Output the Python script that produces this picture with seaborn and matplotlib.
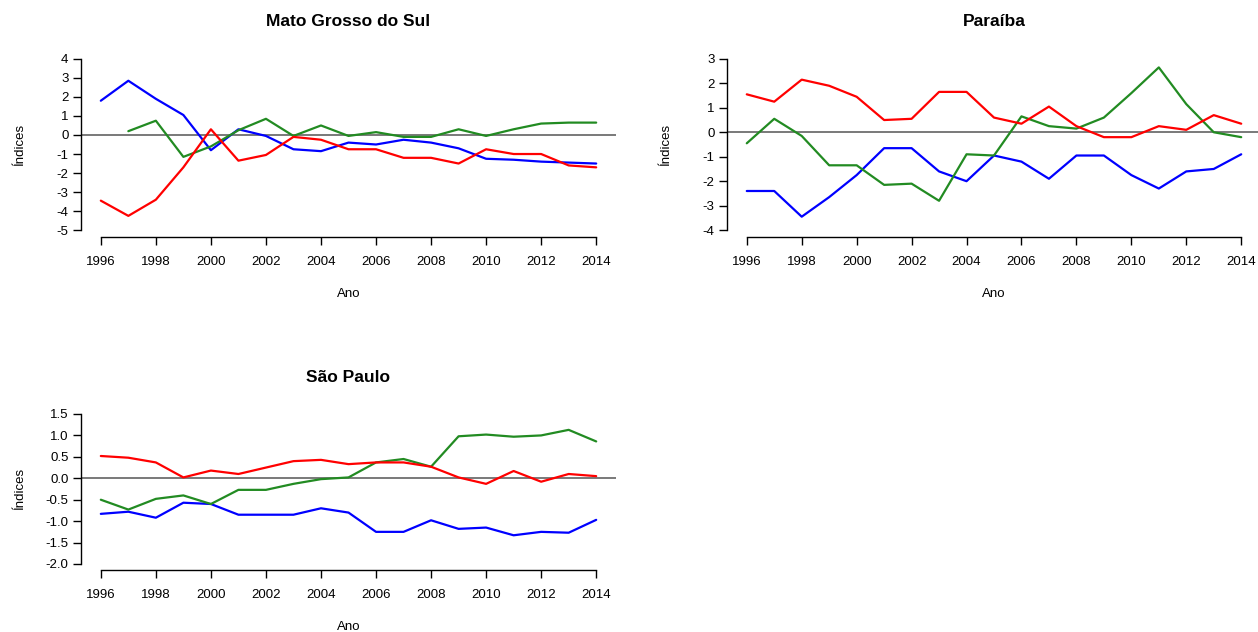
import numpy as np
import pandas as pd
import matplotlib
matplotlib.use('Agg')
import matplotlib.pyplot as plt
import seaborn as sns

sns.set_style('white')
plt.rcParams['font.family'] = ['Liberation Sans', 'DejaVu Sans']
plt.rcParams['text.color'] = 'black'
plt.rcParams['axes.labelcolor'] = 'black'

anos = list(range(1996, 2015))

# Mato Grosso do Sul
ms_azul = [1.8, 2.85, 1.9, 1.05, -0.8, 0.3, -0.05, -0.75, -0.85, -0.4,
           -0.5, -0.25, -0.4, -0.7, -1.25, -1.3, -1.4, -1.45, -1.5]
ms_verde = [np.nan, 0.2, 0.75, -1.15, -0.6, 0.25, 0.85, -0.05, 0.5, -0.05,
            0.15, -0.1, -0.1, 0.3, -0.05, 0.3, 0.6, 0.65, 0.65]
ms_vermelho = [-3.45, -4.25, -3.4, -1.7, 0.3, -1.35, -1.05, -0.1, -0.25, -0.75,
               -0.75, -1.2, -1.2, -1.5, -0.75, -1.0, -1.0, -1.6, -1.7]

# Paraiba
pb_azul = [-2.4, -2.4, -3.45, -2.65, -1.75, -0.65, -0.65, -1.6, -2.0, -0.95,
           -1.2, -1.9, -0.95, -0.95, -1.75, -2.3, -1.6, -1.5, -0.9]
pb_verde = [-0.45, 0.55, -0.15, -1.35, -1.35, -2.15, -2.1, -2.8, -0.9, -0.95,
            0.65, 0.25, 0.15, 0.6, 1.6, 2.65, 1.15, 0.0, -0.2]
pb_vermelho = [1.55, 1.25, 2.15, 1.9, 1.45, 0.5, 0.55, 1.65, 1.65, 0.6,
               0.35, 1.05, 0.25, -0.2, -0.2, 0.25, 0.1, 0.7, 0.35]

# Sao Paulo
sp_azul = [-0.83, -0.78, -0.92, -0.57, -0.6, -0.85, -0.85, -0.85, -0.7, -0.8,
           -1.25, -1.25, -0.98, -1.18, -1.15, -1.33, -1.25, -1.27, -0.97]
sp_verde = [-0.5, -0.73, -0.48, -0.4, -0.6, -0.27, -0.27, -0.13, -0.02, 0.02,
            0.37, 0.45, 0.27, 0.98, 1.02, 0.97, 1.0, 1.13, 0.86]
sp_vermelho = [0.52, 0.48, 0.37, 0.02, 0.18, 0.1, 0.25, 0.4, 0.43, 0.33,
               0.37, 0.37, 0.27, 0.02, -0.13, 0.17, -0.08, 0.1, 0.05]

cores = {'azul': '#0000FF', 'verde': '#228B22', 'vermelho': '#FF0000'}

W, H = 1258, 632
fig = plt.figure(figsize=(W / 100, H / 100), dpi=100)


def eixo(l, r, t, b):
    return fig.add_axes([l / W, 1 - b / H, (r - l) / W, (b - t) / H])


paineis = [
    ('Mato Grosso do Sul', ms_azul, ms_verde, ms_vermelho, (81, 616, 52, 237),
     np.arange(-5, 5, 1), '%d'),
    ('Paraíba', pb_azul, pb_verde, pb_vermelho, (727, 1261, 52, 237),
     np.arange(-4, 4, 1), '%d'),
    ('São Paulo', sp_azul, sp_verde, sp_vermelho, (81, 616, 408, 570),
     np.arange(-2, 1.51, 0.5), '%.1f'),
]

for titulo, azul, verde, vermelho, caixa, yt, fmt in paineis:
    ax = eixo(*caixa)
    df = pd.DataFrame({'Ano': anos * 3,
                       'valor': azul + verde + vermelho,
                       'serie': ['azul'] * 19 + ['verde'] * 19 + ['vermelho'] * 19})
    df = df.dropna()
    sns.lineplot(data=df, x='Ano', y='valor', hue='serie', palette=cores,
                 linewidth=1.6, legend=False, ax=ax)
    ax.axhline(0, color='#555555', linewidth=1.1, zorder=0)

    pad_y = (yt[-1] - yt[0]) * 0.04
    ax.set_xlim(1996 - 18 * 0.04, 2014 + 18 * 0.04)
    ax.set_ylim(yt[0] - pad_y, yt[-1] + pad_y)
    ax.set_xticks(range(1996, 2015, 2))
    ax.set_yticks(yt)
    ax.set_yticklabels([fmt % v for v in yt])

    for s in ['top', 'right']:
        ax.spines[s].set_visible(False)
    ax.spines['left'].set_bounds(yt[0], yt[-1])
    ax.spines['bottom'].set_bounds(1996, 2014)
    for s in ['left', 'bottom']:
        ax.spines[s].set_color('black')
        ax.spines[s].set_linewidth(1.0)
    ax.tick_params(axis='both', direction='out', length=6, width=1.0,
                   labelsize=9.5, colors='black', left=True, bottom=True)
    ax.tick_params(axis='x', pad=8)
    ax.tick_params(axis='y', pad=3)

    ax.set_xlabel('Ano', fontsize=9.5, labelpad=14)
    ax.set_ylabel('Índices', fontsize=9.5)
    # rotulo do eixo y fixo a ~55 px a esquerda do eixo
    largura = caixa[1] - caixa[0]
    ax.yaxis.set_label_coords(-55 / largura, 0.5)
    ax.set_title(titulo, fontsize=12.5, fontweight='bold', pad=19, color='black')
    ax.grid(False)

fig.savefig('out.png', dpi=100)
